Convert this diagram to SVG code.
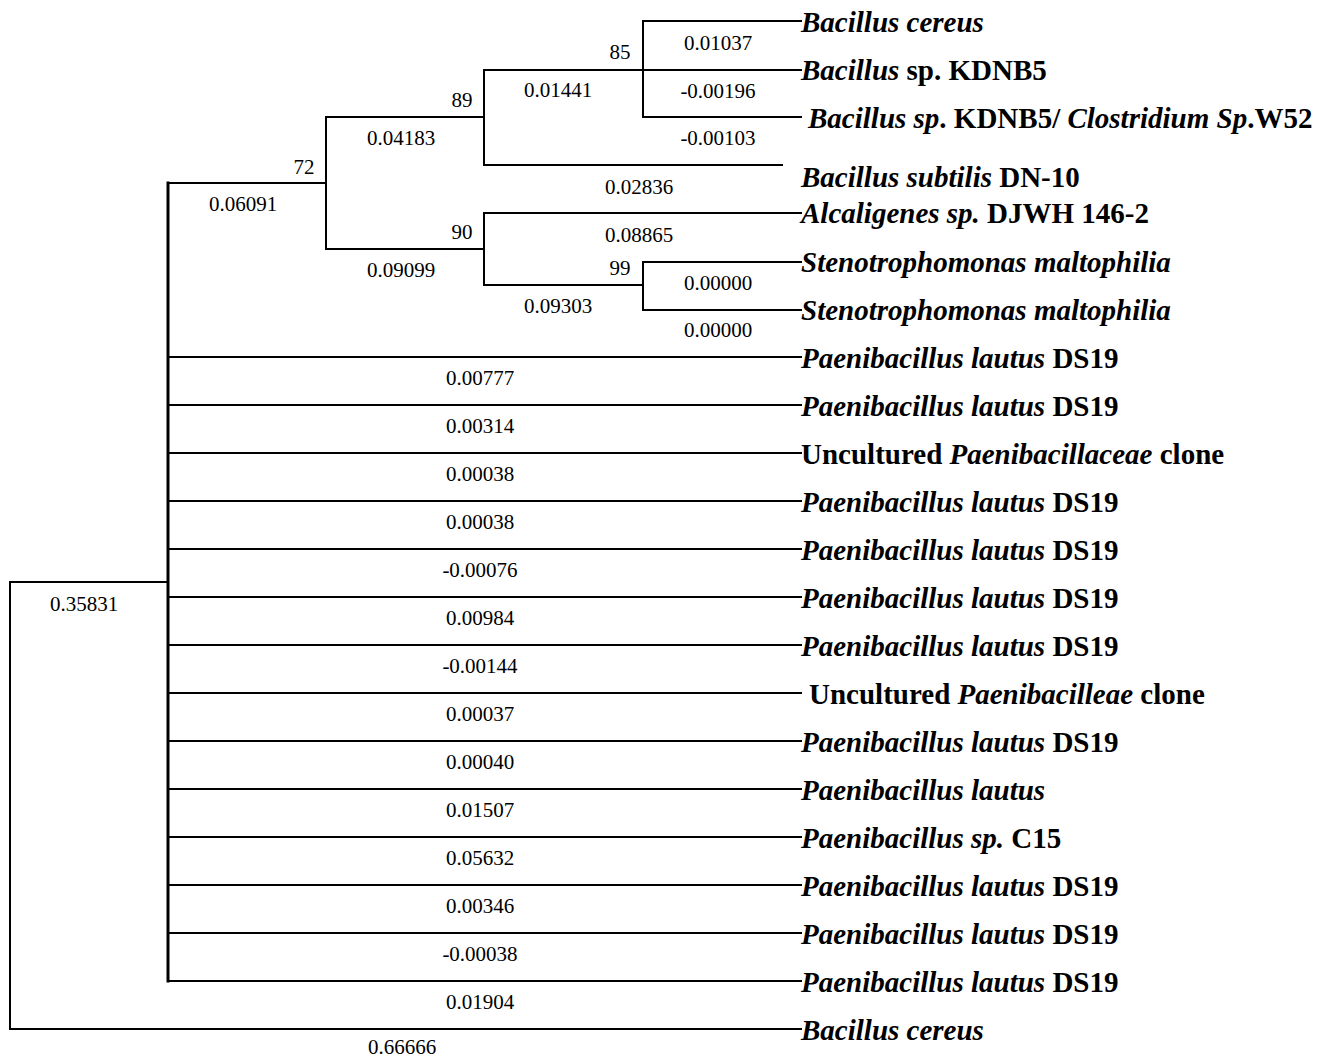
<svg xmlns="http://www.w3.org/2000/svg" width="1321" height="1059" viewBox="0 0 1321 1059">
<style>
.e{fill:none;stroke:#000;stroke-width:2;stroke-linecap:square}
.lf{font-family:"Liberation Serif","Times New Roman",serif;font-size:29px;font-weight:bold;fill:#000}
.it{font-style:italic}
.bl{font-family:"Liberation Serif","Times New Roman",serif;font-size:21px;fill:#000;text-anchor:middle}
</style>
<rect width="1321" height="1059" fill="#fff"/>
<g id="connectors">
<path class="e" d="M10 582H168M10 582V1029H801"/>
<path class="e" d="M168 183V981" style="stroke-width:3"/>
<path class="e" d="M168 183H326M326 117V249M326 117H484M484 70V165M484 70H801M484 165H782M643 21V117M643 21H801M643 117H801"/>
<path class="e" d="M326 249H484M484 213V285M484 213H801M484 285H643M643 262V310M643 262H801M643 310H801"/>
<path class="e" d="M168 357H801M168 405H801M168 453H801M168 501H801M168 549H801M168 597H801M168 645H801M168 693H801M168 741H801M168 789H801M168 837H801M168 885H801M168 933H801M168 981H801"/>
</g>
<g id="branch-labels">
<text class="bl" x="620" y="59">85</text>
<text class="bl" x="718" y="50">0.01037</text>
<text class="bl" x="718" y="98">-0.00196</text>
<text class="bl" x="718" y="145">-0.00103</text>
<text class="bl" x="558" y="97">0.01441</text>
<text class="bl" x="462" y="107">89</text>
<text class="bl" x="401" y="145">0.04183</text>
<text class="bl" x="304" y="174">72</text>
<text class="bl" x="243" y="211">0.06091</text>
<text class="bl" x="639" y="194">0.02836</text>
<text class="bl" x="462" y="239">90</text>
<text class="bl" x="639" y="242">0.08865</text>
<text class="bl" x="401" y="277">0.09099</text>
<text class="bl" x="620" y="275">99</text>
<text class="bl" x="558" y="313">0.09303</text>
<text class="bl" x="718" y="290">0.00000</text>
<text class="bl" x="718" y="337">0.00000</text>
<text class="bl" x="84" y="611">0.35831</text>
<text class="bl" x="480" y="385">0.00777</text>
<text class="bl" x="480" y="433">0.00314</text>
<text class="bl" x="480" y="481">0.00038</text>
<text class="bl" x="480" y="529">0.00038</text>
<text class="bl" x="480" y="577">-0.00076</text>
<text class="bl" x="480" y="625">0.00984</text>
<text class="bl" x="480" y="673">-0.00144</text>
<text class="bl" x="480" y="721">0.00037</text>
<text class="bl" x="480" y="769">0.00040</text>
<text class="bl" x="480" y="817">0.01507</text>
<text class="bl" x="480" y="865">0.05632</text>
<text class="bl" x="480" y="913">0.00346</text>
<text class="bl" x="480" y="961">-0.00038</text>
<text class="bl" x="480" y="1009">0.01904</text>
<text class="bl" x="402" y="1054">0.66666</text>
</g>
<g id="leaf-1"><text class="lf" x="801" y="32"><tspan class="it">Bacillus cereus</tspan></text></g>
<g id="leaf-2"><text class="lf" x="801" y="80"><tspan class="it">Bacillus</tspan> sp. KDNB5</text></g>
<g id="leaf-3"><text class="lf" x="808" y="128"><tspan class="it">Bacillus sp</tspan>. KDNB5/ <tspan class="it">Clostridium Sp</tspan>.W52</text></g>
<g id="leaf-4"><text class="lf" x="801" y="187"><tspan class="it">Bacillus subtilis</tspan> DN-10</text></g>
<g id="leaf-5"><text class="lf" x="801" y="223"><tspan class="it">Alcaligenes sp.</tspan> DJWH 146-2</text></g>
<g id="leaf-6"><text class="lf" x="801" y="272"><tspan class="it">Stenotrophomonas maltophilia</tspan></text></g>
<g id="leaf-7"><text class="lf" x="801" y="320"><tspan class="it">Stenotrophomonas maltophilia</tspan></text></g>
<g id="leaf-8"><text class="lf" x="801" y="368"><tspan class="it">Paenibacillus lautus</tspan> DS19</text></g>
<g id="leaf-9"><text class="lf" x="801" y="416"><tspan class="it">Paenibacillus lautus</tspan> DS19</text></g>
<g id="leaf-10"><text class="lf" x="801" y="464">Uncultured <tspan class="it">Paenibacillaceae</tspan> clone</text></g>
<g id="leaf-11"><text class="lf" x="801" y="512"><tspan class="it">Paenibacillus lautus</tspan> DS19</text></g>
<g id="leaf-12"><text class="lf" x="801" y="560"><tspan class="it">Paenibacillus lautus</tspan> DS19</text></g>
<g id="leaf-13"><text class="lf" x="801" y="608"><tspan class="it">Paenibacillus lautus</tspan> DS19</text></g>
<g id="leaf-14"><text class="lf" x="801" y="656"><tspan class="it">Paenibacillus lautus</tspan> DS19</text></g>
<g id="leaf-15"><text class="lf" x="809" y="704">Uncultured <tspan class="it">Paenibacilleae</tspan> clone</text></g>
<g id="leaf-16"><text class="lf" x="801" y="752"><tspan class="it">Paenibacillus lautus</tspan> DS19</text></g>
<g id="leaf-17"><text class="lf" x="801" y="800"><tspan class="it">Paenibacillus lautus</tspan></text></g>
<g id="leaf-18"><text class="lf" x="801" y="848"><tspan class="it">Paenibacillus sp.</tspan> C15</text></g>
<g id="leaf-19"><text class="lf" x="801" y="896"><tspan class="it">Paenibacillus lautus</tspan> DS19</text></g>
<g id="leaf-20"><text class="lf" x="801" y="944"><tspan class="it">Paenibacillus lautus</tspan> DS19</text></g>
<g id="leaf-21"><text class="lf" x="801" y="992"><tspan class="it">Paenibacillus lautus</tspan> DS19</text></g>
<g id="leaf-22"><text class="lf" x="801" y="1040"><tspan class="it">Bacillus cereus</tspan></text></g>
</svg>
